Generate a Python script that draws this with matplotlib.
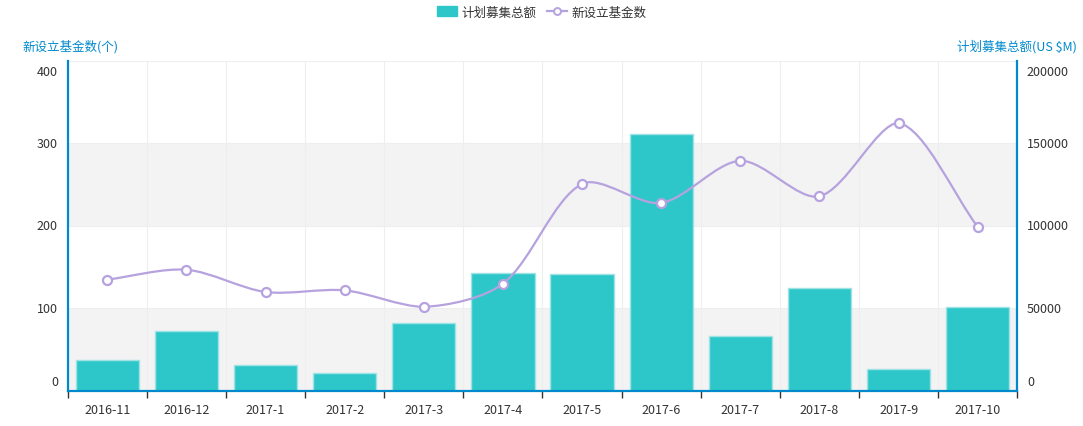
import numpy as np
import matplotlib
matplotlib.use("Agg")
import matplotlib.pyplot as plt
from matplotlib.path import Path
from matplotlib.patches import PathPatch, Patch
from matplotlib.lines import Line2D

plt.rcParams['font.family'] = ['Noto Sans CJK SC', 'DejaVu Sans']

months = ["2016-11", "2016-12", "2017-1", "2017-2", "2017-3", "2017-4",
          "2017-5", "2017-6", "2017-7", "2017-8", "2017-9", "2017-10"]
# 计划募集总额 (US $M), right axis
total = [18600, 36400, 15800, 10900, 41000, 71300,
         70900, 155900, 33300, 62200, 13100, 50700]
# 新设立基金数, left axis
funds = [135, 147, 120, 122, 102, 130, 251, 228, 279, 236, 325, 199]

left_ticks = [0, 100, 200, 300, 400]
right_ticks = [0, 50000, 100000, 150000, 200000]

BAR = '#2ec7c9'
LINE = '#b6a2de'
AXIS = '#008acd'
TXT = '#333333'

fig = plt.figure(figsize=(10.83, 4.27), dpi=100)
ax2 = fig.add_axes([0.0625, 0.082, 0.8768, 0.7728])
ax = ax2.twinx()
ax.set_zorder(ax2.get_zorder() + 1)
ax.patch.set_visible(False)
ax2.set_facecolor('white')

x = np.arange(len(months))
ax2.set_xlim(-0.5, len(months) - 0.5)
ax2.set_ylim(0, 200000)
ax.set_ylim(0, 400)

# alternating background bands
for i in range(len(right_ticks) - 1):
    if i % 2 == 0:
        ax2.axhspan(right_ticks[i], right_ticks[i + 1], color='#f3f3f3', zorder=0, lw=0)
for t in right_ticks[1:]:
    ax2.axhline(t, color='#eeeeee', lw=0.8, zorder=0.5)
for b in np.arange(0.5, len(months) - 0.5, 1):
    ax2.axvline(b, color='#eeeeee', lw=0.8, zorder=0.5)

ax2.bar(x, total, width=0.8, color=BAR, edgecolor='#9fe3e4', linewidth=1, zorder=2)

# smooth line: bezier control points, smoothness 0.3, clamped to point bbox
fig.canvas.draw()
pts = ax.transData.transform(np.column_stack([x, funds]))
lo, hi = pts.min(axis=0), pts.max(axis=0)
n = len(pts)
sm = 0.3
cps = []
for i in range(n):
    p = pts[i]
    prv = pts[i - 1] if i > 0 else p
    nxt = pts[i + 1] if i < n - 1 else p
    v = (nxt - prv) * sm
    d0 = np.hypot(*(p - prv))
    d1 = np.hypot(*(nxt - p))
    s = d0 + d1
    if s > 0:
        d0, d1 = d0 / s, d1 / s
    c0 = np.clip(p - v * d0, lo, hi)
    c1 = np.clip(p + v * d1, lo, hi)
    cps.append((c0, c1))
verts = [pts[0]]
codes = [Path.MOVETO]
for i in range(n - 1):
    verts += [cps[i][1], cps[i + 1][0], pts[i + 1]]
    codes += [Path.CURVE4] * 3
verts = ax.transData.inverted().transform(np.array(verts))
ax.add_patch(PathPatch(Path(verts, codes), fill=False, edgecolor=LINE, lw=1.6, zorder=3))
ax.plot(x, funds, ls='none', marker='o', ms=6.5, mfc='white', mec=LINE, mew=1.6, zorder=4)

# axes styling
for a in (ax, ax2):
    for s in ('left', 'right', 'bottom', 'top'):
        a.spines[s].set_visible(False)
ax2.spines['left'].set_visible(True)
ax2.spines['left'].set_color(AXIS)
ax2.spines['left'].set_linewidth(1.6)
ax2.spines['bottom'].set_visible(True)
ax2.spines['bottom'].set_color(AXIS)
ax2.spines['bottom'].set_linewidth(1.6)
ax.spines['right'].set_visible(True)
ax.spines['right'].set_color(AXIS)
ax.spines['right'].set_linewidth(1.6)

ax2.set_xticks(np.arange(-0.5, len(months), 1))
ax2.set_xticklabels([])
ax2.tick_params(axis='x', which='major', length=5, width=1, color=TXT, direction='out')
ax2.set_xticks(x, minor=True)
ax2.set_xticklabels(months, minor=True)
ax2.tick_params(axis='x', which='minor', length=0, pad=9, labelsize=9, labelcolor=TXT)

ax2.yaxis.set_ticks_position('none')
ax2.set_yticks(right_ticks)
ax2.set_yticklabels([])
ax.set_yticks(left_ticks)
ax.set_yticklabels([])
ax.tick_params(axis='y', length=0)

for v in left_ticks:
    va = 'bottom' if v == left_ticks[0] else ('top' if v == left_ticks[-1] else 'center')
    off = 2 if v == left_ticks[0] else (-3 if v == left_ticks[-1] else 0)
    ax.annotate(str(v), xy=(0, v), xycoords=('axes fraction', 'data'),
                xytext=(-7, off), textcoords='offset points', ha='right', va=va,
                fontsize=9, color=TXT)
for v in right_ticks:
    va = 'bottom' if v == right_ticks[0] else ('top' if v == right_ticks[-1] else 'center')
    off = 2 if v == right_ticks[0] else (-3 if v == right_ticks[-1] else 0)
    ax2.annotate(str(v), xy=(1, v), xycoords=('axes fraction', 'data'),
                 xytext=(7, off), textcoords='offset points', ha='left', va=va,
                 fontsize=9, color=TXT)

fig.text(22 / 1083, 1 - 47 / 427, "新设立基金数(个)", color=AXIS, fontsize=9,
         ha='left', va='center')
fig.text(1077 / 1083, 1 - 47 / 427, "计划募集总额(US $M)", color=AXIS, fontsize=9,
         ha='right', va='center')

handles = [Patch(facecolor=BAR, edgecolor=BAR),
           Line2D([0], [0], color=LINE, lw=1.6, marker='o', ms=5, mfc='white', mec=LINE, mew=1.4)]
fig.legend(handles, ["计划募集总额", "新设立基金数"], loc='center', ncol=2,
           bbox_to_anchor=(0.5, 1 - 13 / 427), frameon=False, fontsize=9,
           handlelength=1.6, handleheight=0.9, handletextpad=0.4, columnspacing=0.8,
           labelcolor=TXT)

fig.savefig("out.png", dpi=100, facecolor='white')
